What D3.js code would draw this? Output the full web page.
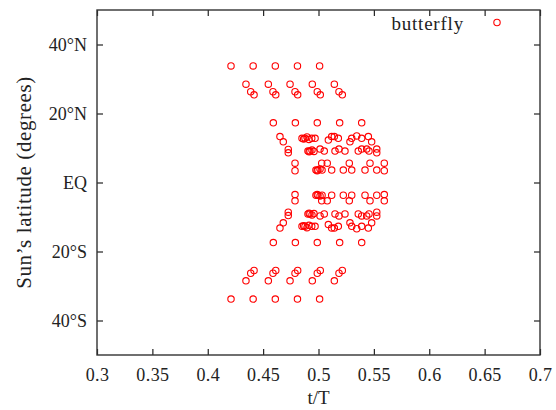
<!DOCTYPE html>
<html>
<head>
<meta charset="utf-8">
<script src="https://cdn.jsdelivr.net/npm/d3@7"></script>
<style>
  body { margin: 0; background: #fff; }
  svg text { font-family: "Liberation Serif", "DejaVu Serif", serif; fill: #222; }
</style>
</head>
<body>
<svg id="chart" width="556" height="410"></svg>
<script>
// Axis ticks
const xTicks = [0.3, 0.35, 0.4, 0.45, 0.5, 0.55, 0.6, 0.65, 0.7];
const yTicks = [40, 20, 0, -20, -40];
const yTickLabels = ["40°N", "20°N", "EQ", "20°S", "40°S"];

// Spot emergence times (t/T) and latitudes, northern hemisphere
const northT = [
  0.421, 0.441, 0.461, 0.481, 0.501,
  0.4345, 0.4547, 0.4743, 0.4944, 0.5143,
  0.4388, 0.4589, 0.4788, 0.4989, 0.5185,
  0.4418, 0.4614, 0.4812, 0.5016, 0.5215,
  0.4592, 0.4791, 0.4989, 0.5191, 0.5390,
  0.4652, 0.4682, 0.4851, 0.4866, 0.4878, 0.4896, 0.4914, 0.4939, 0.4969, 0.5089, 0.5119, 0.5143, 0.5179, 0.5284, 0.5300, 0.5345, 0.5390, 0.5450, 0.5480,
  0.4727, 0.4727, 0.4905, 0.4915, 0.4923, 0.4941, 0.4959, 0.5014, 0.5052, 0.5149, 0.5185, 0.5239, 0.5359, 0.5390, 0.5435, 0.5456, 0.5526, 0.5526,
  0.4788, 0.4788, 0.4977, 0.4988, 0.4995, 0.5014, 0.5032, 0.5029, 0.5079, 0.5119, 0.5224, 0.5278, 0.5300, 0.5420, 0.5465, 0.5526, 0.5594, 0.5594
];
const northLat = [
  33.8, 33.8, 33.8, 33.8, 33.8,
  28.5, 28.5, 28.5, 28.5, 28.5,
  26.3, 26.3, 26.3, 26.3, 26.3,
  25.4, 25.4, 25.4, 25.4, 25.4,
  17.3, 17.3, 17.3, 17.3, 17.3,
  13.3, 11.8, 12.8, 12.6, 12.8, 13.2, 12.5, 12.8, 12.8, 12.3, 13.3, 13.3, 12.8, 11.8, 12.8, 13.5, 12.8, 13.3, 11.8,
  9.6, 8.6, 9.1, 8.9, 9.1, 9.4, 9.0, 9.7, 9.1, 9.1, 9.7, 9.1, 9.1, 9.7, 9.7, 9.1, 9.7, 8.6,
  5.6, 3.4, 3.6, 3.4, 3.6, 3.9, 3.6, 5.6, 5.6, 3.6, 3.6, 5.6, 3.6, 3.6, 5.6, 3.6, 5.6, 3.4
];

// Southern hemisphere
const southT = [
  0.421, 0.441, 0.461, 0.481, 0.501,
  0.4345, 0.4547, 0.4743, 0.4944, 0.5143,
  0.4388, 0.4589, 0.4788, 0.4989, 0.5185,
  0.4418, 0.4614, 0.4812, 0.5016, 0.5215,
  0.4592, 0.4791, 0.4989, 0.5191, 0.5390,
  0.4652, 0.4682, 0.4851, 0.4866, 0.4878, 0.4896, 0.4914, 0.4939, 0.4969, 0.5089, 0.5119, 0.5143, 0.5179, 0.5284, 0.5300, 0.5345, 0.5390, 0.5450, 0.5480,
  0.4727, 0.4727, 0.4905, 0.4915, 0.4923, 0.4941, 0.4959, 0.5014, 0.5052, 0.5149, 0.5185, 0.5239, 0.5359, 0.5390, 0.5435, 0.5456, 0.5526, 0.5526,
  0.4788, 0.4788, 0.4977, 0.4988, 0.4995, 0.5014, 0.5032, 0.5029, 0.5079, 0.5119, 0.5224, 0.5278, 0.5300, 0.5420, 0.5465, 0.5526, 0.5594, 0.5594
];
const southLat = [
  -33.8, -33.8, -33.8, -33.8, -33.8,
  -28.5, -28.5, -28.5, -28.5, -28.5,
  -26.3, -26.3, -26.3, -26.3, -26.3,
  -25.5, -25.5, -25.5, -25.5, -25.5,
  -17.4, -17.4, -17.4, -17.4, -17.4,
  -13.2, -11.7, -12.7, -12.5, -12.7, -13.1, -12.4, -12.7, -12.7, -12.2, -13.2, -13.2, -12.7, -11.7, -12.7, -13.4, -12.7, -13.2, -11.7,
  -9.6, -8.6, -9.1, -8.9, -9.1, -9.4, -9.0, -9.7, -9.1, -9.1, -9.7, -9.1, -9.1, -9.7, -9.7, -9.1, -9.7, -8.6,
  -5.3, -3.5, -3.7, -3.5, -3.7, -3.9, -3.7, -5.3, -5.3, -3.7, -3.7, -5.3, -3.7, -3.7, -5.3, -3.7, -5.3, -3.5
];

const legendLabel = "butterfly";

const width = 556, height = 410;
const margin = { top: 10, right: 16, bottom: 55, left: 97 };
const svg = d3.select("#chart");

const x = d3.scaleLinear().domain([0.3, 0.7]).range([margin.left, width - margin.right]);
const y = d3.scaleLinear().domain([-50, 50]).range([height - margin.bottom, margin.top]);

const tickLen = 6;
const fmtX = d3.format("~g");

// Bottom axis with labels, ticks pointing inward
const gx = svg.append("g")
  .attr("transform", `translate(0,${height - margin.bottom})`)
  .call(d3.axisBottom(x).tickValues(xTicks).tickSize(-tickLen).tickFormat(fmtX));
gx.selectAll("text").attr("y", 26).attr("dy", 0)
  .style("font-size", "18px").style("letter-spacing", "0.4px");

// Top mirror ticks
svg.append("g")
  .attr("transform", `translate(0,${margin.top})`)
  .call(d3.axisTop(x).tickValues(xTicks).tickSize(-tickLen).tickFormat(""));

// Left axis with latitude labels
const gy = svg.append("g")
  .attr("transform", `translate(${margin.left},0)`)
  .call(d3.axisLeft(y).tickValues(yTicks).tickSize(-tickLen)
    .tickFormat((d, i) => yTickLabels[i]));
gy.selectAll("text").attr("x", -10).attr("dy", "0.35em").style("font-size", "18px");

// Right mirror ticks
svg.append("g")
  .attr("transform", `translate(${width - margin.right},0)`)
  .call(d3.axisRight(y).tickValues(yTicks).tickSize(-tickLen).tickFormat(""));

svg.selectAll(".domain").remove();
svg.selectAll(".tick line").attr("stroke", "#222").attr("stroke-width", 1.2);

// Plot frame
svg.append("rect")
  .attr("x", margin.left).attr("y", margin.top)
  .attr("width", width - margin.left - margin.right)
  .attr("height", height - margin.top - margin.bottom)
  .attr("fill", "none").attr("stroke", "#333").attr("stroke-width", 1.4);

// Axis titles
svg.append("text")
  .attr("x", x(0.5)).attr("y", 404)
  .attr("text-anchor", "middle").style("font-size", "19px")
  .text("t/T");
svg.append("text")
  .attr("transform", `translate(24,${y(0)}) rotate(-90)`)
  .attr("text-anchor", "middle").attr("dy", "0.35em")
  .style("font-size", "21px").style("letter-spacing", "0.6px")
  .text("Sun’s latitude (degrees)");

// Points
const pts = northT.map((t, i) => ({ t, lat: northLat[i] }))
  .concat(southT.map((t, i) => ({ t, lat: southLat[i] })));
svg.append("g").selectAll("circle")
  .data(pts).join("circle")
  .attr("cx", d => x(d.t)).attr("cy", d => y(d.lat)).attr("r", 3.2)
  .attr("fill", "none").attr("stroke", "#f00").attr("stroke-width", 1.1);

// Legend
svg.append("text")
  .attr("x", 464).attr("y", 30)
  .attr("text-anchor", "end").style("font-size", "19px").style("letter-spacing", "0.8px")
  .text(legendLabel);
svg.append("circle")
  .attr("cx", 497).attr("cy", 22.5).attr("r", 3.2)
  .attr("fill", "none").attr("stroke", "#f00").attr("stroke-width", 1.1);
</script>
</body>
</html>
